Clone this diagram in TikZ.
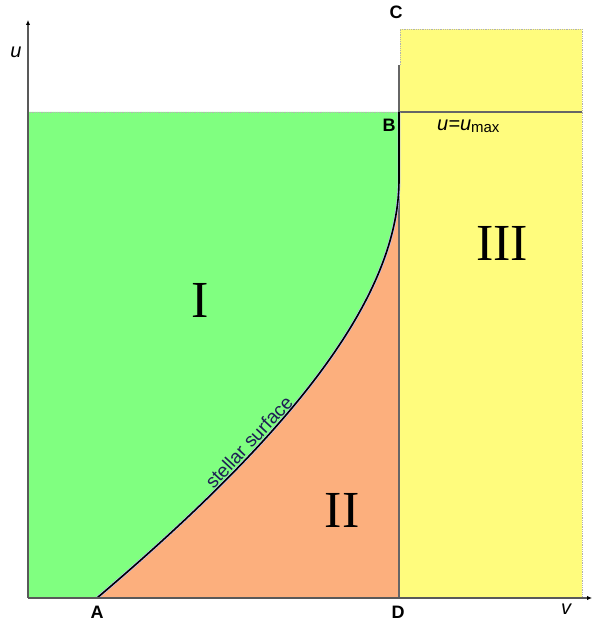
\documentclass[tikz,border=0pt]{standalone}
\usepackage{fontspec}
\setmainfont{Liberation Serif}
\setsansfont{Liberation Sans}
\usetikzlibrary{arrows.meta}

\definecolor{regionI}{RGB}{128,255,128}
\definecolor{regionII}{RGB}{252,175,125}
\definecolor{regionIII}{RGB}{255,252,125}
\definecolor{surfacetext}{RGB}{30,30,85}

\begin{document}
\begin{tikzpicture}[
  x=1pt, y=1pt,
  axis/.style={draw=black!65, line width=1.1pt, -{Latex[length=5pt, width=4.5pt, black]}},
  edge/.style={draw=black!60, line width=1.1pt},
  border/.style={draw=black!30, densely dotted, line width=0.8pt},
  surface/.style={draw=black, line width=1.6pt},
  ptlabel/.style={font=\sffamily\bfseries\fontsize{18}{20}\selectfont, inner sep=0pt},
  axlabel/.style={font=\sffamily\itshape\fontsize{20}{22}\selectfont, inner sep=0pt},
  roman/.style={font=\fontsize{52}{56}\selectfont, inner sep=0pt}
]
\useasboundingbox (0,0) rectangle (593,626);

% corners and ends
\coordinate (O) at (28,28);
\coordinate (A) at (97,28);
\coordinate (D) at (399,28);
\coordinate (S) at (399,446);
\coordinate (B) at (399,514);
\coordinate (G) at (28,514);
\coordinate (Ctop) at (399,561);
\coordinate (Uend) at (582,514);
\coordinate (Utip) at (28,606);
\coordinate (Vtip) at (592,28);

% regions
\fill[regionIII] (400,28) rectangle (582,597);
\draw[border] (400,561) |- (582,597) -- (582,28);
\fill[regionI] (O) -- (A) .. controls (277,181) and (399,321) .. (S) -- (B) -- (G) -- cycle;
\fill[regionII] (A) .. controls (277,181) and (399,321) .. (S) -- (D) -- cycle;
\draw[border] (G) -- (B);

% lines
\draw[edge] (D) -- (Ctop);
\draw[edge] (B) -- (Uend);
\draw[draw=blue!25, line width=2.8pt] (A) .. controls (277,181) and (399,321) .. (S) -- (B);
\draw[surface] (A) .. controls (277,181) and (399,321) .. node[pos=0.335, sloped, above=1pt, font=\sffamily\fontsize{19}{20}\selectfont, text=surfacetext, inner sep=1pt] (surflabel) {stellar surface} (S) -- (B);
\draw[axis] (O) -- (Utip);
\draw[axis] (O) -- (Vtip);

% labels
\node[ptlabel] (labC) at (396,614) {C};
\node[ptlabel] (labB) at (389,501) {B};
\node[ptlabel] (labA) at (97,14) {A};
\node[ptlabel] (labD) at (398,14) {D};
\node[axlabel] (labu) at (16,574) {u};
\node[axlabel] (labv) at (566,17) {v};
\node[axlabel, anchor=base west] (labumax) at (437,495) {u=u\raisebox{-2pt}{\upshape\fontsize{15}{16}\selectfont max}};
\node[roman] (regI) at (200,326) {I};
\node[roman] (regII) at (342,116) {II};
\node[roman] (regIII) at (502,383) {III};
\end{tikzpicture}
\end{document}
